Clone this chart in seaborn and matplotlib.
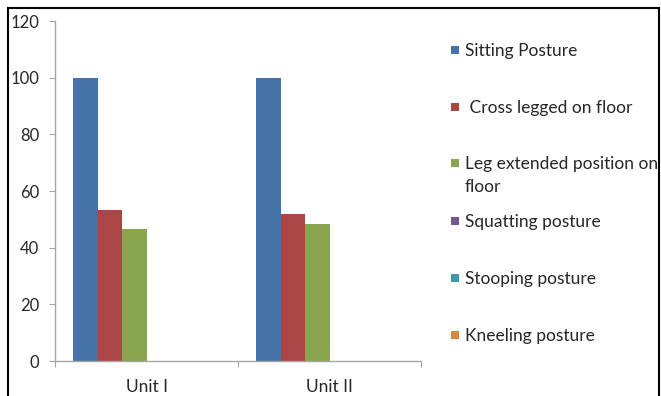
import matplotlib
matplotlib.use("Agg")
import matplotlib.pyplot as plt
from matplotlib.patches import Rectangle
import seaborn as sns
import pandas as pd

units = ["Unit I", "Unit II"]
postures = ["Sitting Posture", " Cross legged on floor", "Leg extended position on\nfloor",
            "Squatting posture", "Stooping posture", "Kneeling posture"]
unit1_values = [100, 53.3, 46.7, 0, 0, 0]
unit2_values = [100, 51.8, 48.2, 0, 0, 0]
colors = ["#4572A7", "#AA4643", "#89A54E", "#71588F", "#4198AF", "#DB843D"]
yticks = [0, 20, 40, 60, 80, 100, 120]

rows = []
for u, vals in zip(units, [unit1_values, unit2_values]):
    for p, v in zip(postures, vals):
        rows.append({"unit": u, "posture": p, "value": v})
df = pd.DataFrame(rows)

sns.set_theme(style="white")
plt.rcParams["font.family"] = ["Lato", "DejaVu Sans"]

W, H = 661, 396
fig = plt.figure(figsize=(W / 100, H / 100), dpi=100)
ax = fig.add_axes([55 / W, 1 - 361 / H, (421 - 55) / W, (361 - 21) / H])

sns.barplot(data=df, x="unit", y="value", hue="posture", hue_order=postures,
            palette=colors, width=0.8, gap=0, ax=ax, legend=False,
            saturation=1, linewidth=0, errorbar=None)

ax.set_xlim(-0.5, 1.5)
ax.set_ylim(0, 120)
ax.set_yticks(yticks)
ax.set_yticklabels([str(t) for t in yticks])
ax.set_xlabel("")
ax.set_ylabel("")

for s in ["top", "right"]:
    ax.spines[s].set_visible(False)
for s in ["left", "bottom"]:
    ax.spines[s].set_color("#A6A6A6")
    ax.spines[s].set_linewidth(1.0)

ax.tick_params(axis="y", which="major", direction="out", length=4.5, width=0.8,
               color="#A6A6A6", labelsize=12, labelcolor="#262626", pad=7, left=True)
ax.set_xticks([0, 1])
ax.set_xticklabels(units)
ax.tick_params(axis="x", which="major", length=0, labelsize=12.5, labelcolor="#262626", pad=13)
ax.set_xticks([-0.5, 0.5, 1.5], minor=True)
ax.tick_params(axis="x", which="minor", direction="out", length=4, width=0.8,
               color="#A6A6A6", bottom=True)

# legend drawn manually to match Excel's equally spaced entries
leg_y = [50, 107, 163, 221, 278, 335]
for lab, col, y in zip(postures, colors, leg_y):
    fig.patches.append(Rectangle((451 / W, 1 - (y + 4) / H), 8 / W, 8 / H,
                                 transform=fig.transFigure, facecolor=col,
                                 edgecolor="none", figure=fig))
    for i, line in enumerate(lab.split("\n")):
        fig.text(465 / W, 1 - (y + 6 + 23 * i) / H, line, ha="left", va="baseline",
                 fontsize=12.5, color="#262626")

# outer frame (left, top, right; bottom is cropped)
frame = Rectangle((8 / W, -0.05), (659 - 8) / W, 1.05 - 8 / H,
                  transform=fig.transFigure, facecolor="none",
                  edgecolor="black", linewidth=1.5, figure=fig)
fig.patches.append(frame)

fig.savefig("out.png", dpi=100)
